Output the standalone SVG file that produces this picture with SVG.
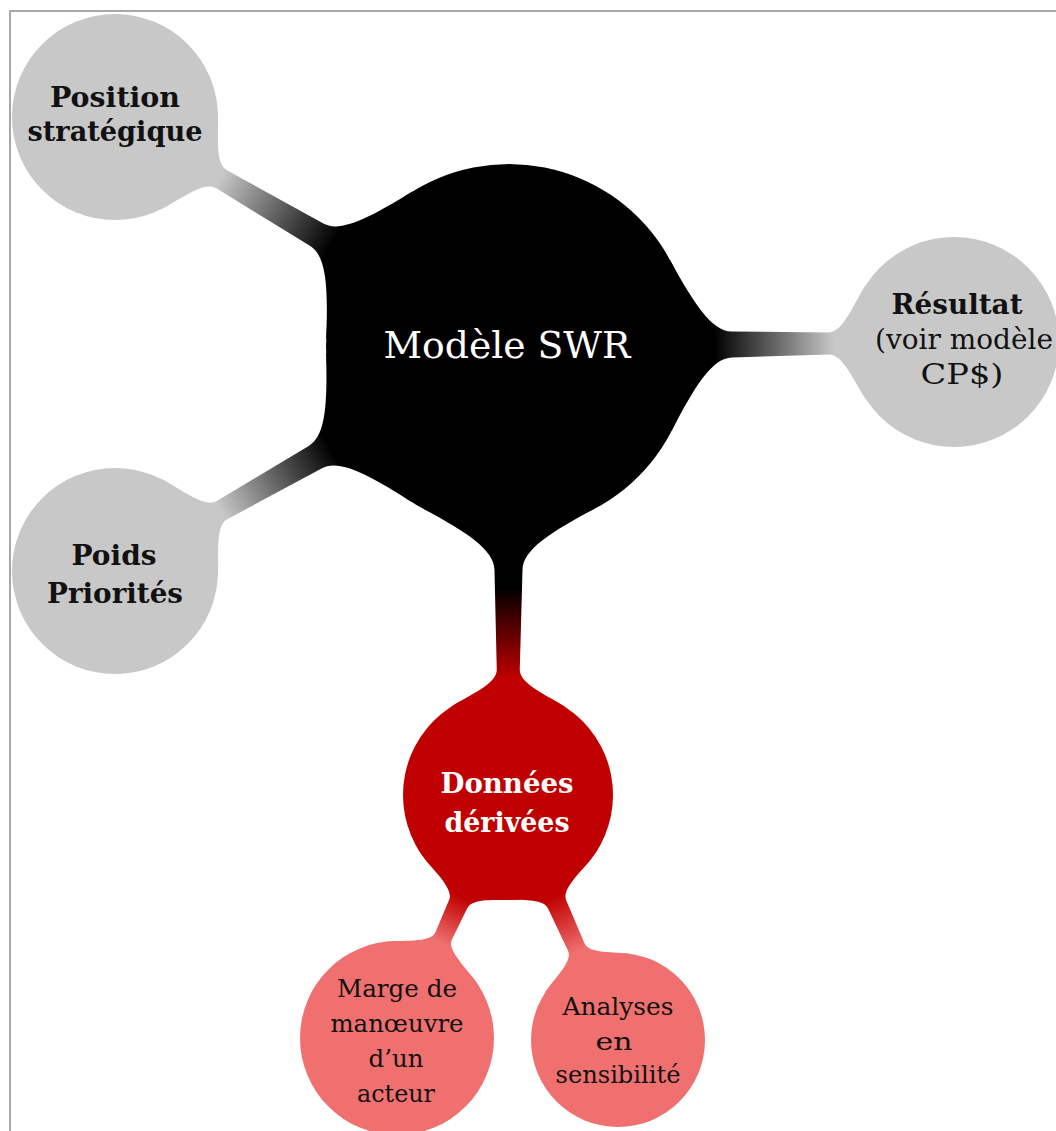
<svg xmlns="http://www.w3.org/2000/svg" width="1056" height="1131" viewBox="0 0 1056 1131">
<style>
.t{font-family:"DejaVu Serif","Liberation Serif",serif;text-anchor:middle}
.b{font-weight:bold;font-size:28px}
.r{font-size:27px}
.s{font-size:25px}
.w{fill:#ffffff}
.k{fill:#111111}
.gray{fill:#c8c8c8}
.lr{fill:#f07070}
</style>
<defs>
<linearGradient id="g1" gradientUnits="userSpaceOnUse" x1="205" y1="0" x2="335" y2="0"><stop offset="0" stop-color="#000"/><stop offset="1" stop-color="#c8c8c8"/></linearGradient>
<linearGradient id="g2" gradientUnits="userSpaceOnUse" x1="205" y1="0" x2="325" y2="0"><stop offset="0" stop-color="#000"/><stop offset="1" stop-color="#c8c8c8"/></linearGradient>
<linearGradient id="g3" gradientUnits="userSpaceOnUse" x1="205" y1="0" x2="332" y2="0"><stop offset="0" stop-color="#000"/><stop offset="1" stop-color="#c8c8c8"/></linearGradient>
<linearGradient id="g4" gradientUnits="userSpaceOnUse" x1="240" y1="0" x2="332" y2="0"><stop offset="0" stop-color="#000"/><stop offset="1" stop-color="#c00000"/></linearGradient>
<linearGradient id="g5" gradientUnits="userSpaceOnUse" x1="112" y1="0" x2="162" y2="0"><stop offset="0" stop-color="#c00000"/><stop offset="1" stop-color="#f07070"/></linearGradient>
<linearGradient id="g6" gradientUnits="userSpaceOnUse" x1="112" y1="0" x2="172" y2="0"><stop offset="0" stop-color="#c00000"/><stop offset="1" stop-color="#f07070"/></linearGradient>
</defs>
<rect width="1056" height="1131" fill="#ffffff"/>
<path d="M10,1131 V11 H1056" fill="none" stroke="#a8a8a8" stroke-width="2"/>
<g id="connectors">
<path transform="translate(509,347) rotate(-149.73)" fill="url(#g1)" d="M161.6,85.9 C185.1,41.8 203,13 223,13 L333.2,10.5 C347.2,10.5 357.8,37.6 369.8,56.1 L369.8,-56.1 C357.8,-37.6 347.2,-10.5 333.2,-10.5 L223,-13 C203,-13 185.1,-41.8 161.6,-85.9 Z"/>
<path transform="translate(509,347) rotate(-0.64)" fill="url(#g2)" d="M161.6,85.9 C185.1,41.8 203,13 223,13 L320,11 C334,11 344.9,38.7 356.9,57.2 L356.9,-57.2 C344.9,-38.7 334,-11 320,-11 L223,-13 C203,-13 185.1,-41.8 161.6,-85.9 Z"/>
<path transform="translate(509,347) rotate(150.38)" fill="url(#g3)" d="M161.6,85.9 C185.1,41.8 203,13 223,13 L330.2,10.5 C344.2,10.5 354.8,37.6 366.8,56.1 L366.8,-56.1 C354.8,-37.6 344.2,-10.5 330.2,-10.5 L223,-13 C203,-13 185.1,-41.8 161.6,-85.9 Z"/>
<path transform="translate(509,347) rotate(90.13)" fill="url(#g4)" d="M161.6,85.9 C185.1,41.8 203,14 223,14 L323,11.5 C337,11.5 347.9,38.7 359.9,57.2 L359.9,-57.2 C347.9,-38.7 337,-11.5 323,-11.5 L223,-14 C203,-14 185.1,-41.8 161.6,-85.9 Z"/>
<path transform="translate(508,795) rotate(114.55)" fill="url(#g5)" d="M86,60.2 C98.6,42.2 106,10 120,10 L155.2,9 C167.2,9 176,37.7 185.8,52.8 L185.8,-52.8 C176,-37.7 167.2,-9 155.2,-9 L120,-10 C106,-10 98.6,-42.2 86,-60.2 Z"/>
<path transform="translate(508,795) rotate(65.82)" fill="url(#g6)" d="M86,60.2 C98.6,42.2 106,10 120,10 L166.6,9 C178.6,9 185.8,32.3 195.6,47.4 L195.6,-47.4 C185.8,-32.3 178.6,-9 166.6,-9 L120,-10 C106,-10 98.6,-42.2 86,-60.2 Z"/>
</g>
<g id="node-main">
<circle cx="509" cy="347" r="183" fill="#000000"/>
<text class="t w" x="507" y="358" font-size="38" textLength="247" lengthAdjust="spacingAndGlyphs">Modèle SWR</text>
</g>
<g id="node-position">
<circle class="gray" cx="115" cy="117" r="103"/>
<text class="t b k" x="115" y="107" textLength="130" lengthAdjust="spacingAndGlyphs">Position</text>
<text class="t b k" x="115" y="141" textLength="175" lengthAdjust="spacingAndGlyphs">stratégique</text>
</g>
<g id="node-resultat">
<circle class="gray" cx="954" cy="342" r="105"/>
<text class="t b k" x="957" y="314" textLength="131" lengthAdjust="spacingAndGlyphs">Résultat</text>
<text class="t r k" x="964" y="349" textLength="178" lengthAdjust="spacingAndGlyphs">(voir modèle</text>
<text class="t r k" x="962" y="384" textLength="83" lengthAdjust="spacingAndGlyphs">CP$)</text>
</g>
<g id="node-poids">
<circle class="gray" cx="115" cy="571" r="103"/>
<text class="t b k" x="114" y="565" textLength="85" lengthAdjust="spacingAndGlyphs">Poids</text>
<text class="t b k" x="115" y="603" textLength="136" lengthAdjust="spacingAndGlyphs">Priorités</text>
</g>
<g id="node-donnees">
<circle cx="508" cy="795" r="105" fill="#c00000"/>
<text class="t b w" x="507" y="793" textLength="133" lengthAdjust="spacingAndGlyphs">Données</text>
<text class="t b w" x="507" y="832" textLength="125" lengthAdjust="spacingAndGlyphs">dérivées</text>
</g>
<g id="node-marge">
<circle class="lr" cx="397" cy="1038" r="97"/>
<text class="t s k" x="397" y="997" textLength="120" lengthAdjust="spacingAndGlyphs">Marge de</text>
<text class="t s k" x="397" y="1032" textLength="133" lengthAdjust="spacingAndGlyphs">manœuvre</text>
<text class="t s k" x="396" y="1067" textLength="55" lengthAdjust="spacingAndGlyphs">d’un</text>
<text class="t s k" x="396" y="1102" textLength="78" lengthAdjust="spacingAndGlyphs">acteur</text>
</g>
<g id="node-analyses">
<circle class="lr" cx="618" cy="1040" r="87"/>
<text class="t s k" x="618" y="1015" textLength="111" lengthAdjust="spacingAndGlyphs">Analyses</text>
<text class="t s k" x="614" y="1050" textLength="37" lengthAdjust="spacingAndGlyphs">en</text>
<text class="t s k" x="618" y="1083" textLength="125" lengthAdjust="spacingAndGlyphs">sensibilité</text>
</g>
</svg>
